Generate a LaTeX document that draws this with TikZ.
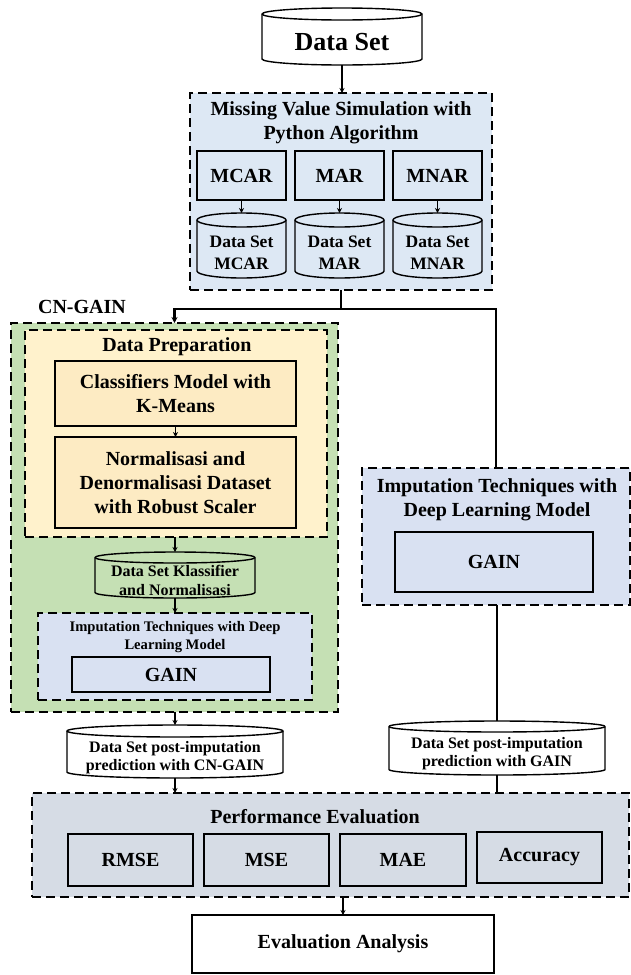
\documentclass[tikz,border=0pt]{standalone}
\usepackage{fontspec}
\setmainfont{Liberation Serif}
\usetikzlibrary{arrows.meta}

\definecolor{simblue}{HTML}{DDE8F4}
\definecolor{cngreen}{HTML}{C5E0B4}
\definecolor{prepyel}{HTML}{FFF2CC}
\definecolor{stepyel}{HTML}{FDEBC3}
\definecolor{impblue}{HTML}{D9E1F2}
\definecolor{evalgray}{HTML}{D6DCE5}

% rectangle node given by its corners (x1,y1)-(x2,y2), y measured downwards
\newcommand\rbox[7]{%
  \pgfmathsetmacro\rbw{#5-#3}\pgfmathsetmacro\rbh{#6-#4}%
  \node[#1, anchor=north west, minimum width=\rbw pt, minimum height=\rbh pt] (#2) at (#3,-#4) {#7};}

% database cylinder: name, x1, ytop, x2, ybottom, cap radius, fill, font, text
\newcommand\dbcyl[9]{%
  \pgfmathsetmacro\cylcx{(#2+#4)/2}%
  \pgfmathsetmacro\cylrx{(#4-#2)/2}%
  \pgfmathsetmacro\cylw{#4-#2}%
  \pgfmathsetmacro\cylh{#5-#3}%
  \pgfmathsetmacro\cylta{-(#3+#6)}%
  \pgfmathsetmacro\cylba{-(#5-#6)}%
  \pgfmathsetmacro\cylty{-(#3+2*#6+#5)/2}%
  \path[cylline, fill=#7] (#2,\cylta) -- (#2,\cylba)
     arc[start angle=180, end angle=360, x radius=\cylrx pt, y radius=#6 pt]
     -- (#4,\cylta)
     arc[start angle=0, end angle=180, x radius=\cylrx pt, y radius=#6 pt] -- cycle;
  \path[cylline] (#2,\cylta)
     arc[start angle=180, end angle=360, x radius=\cylrx pt, y radius=#6 pt];
  \node[inner sep=0pt, outer sep=0pt, minimum width=\cylw pt, minimum height=\cylh pt,
        anchor=north west] (#1) at (#2,-#3) {};
  \node[align=center, inner sep=0pt, font={#8}] (#1t) at (\cylcx,\cylty) {#9};}

\begin{document}
\begin{tikzpicture}[x=1pt, y=1pt,
  box/.style={draw=black, line width=1.6pt, inner sep=0pt, outer sep=0pt, align=center,
              font=\fontsize{20}{24}\selectfont\bfseries},
  thickbox/.style={box, line width=2.6pt},
  group/.style={draw=black, line width=2.6pt, dash pattern=on 9pt off 5pt,
                inner sep=0pt, outer sep=0pt},
  cylline/.style={draw=black, line width=1.4pt},
  title/.style={align=center, inner sep=0pt, font=\fontsize{20}{24}\selectfont\bfseries},
  arr/.style={draw=black, line width=1.4pt, -{Stealth[length=5pt,width=5pt]}},
  conn/.style={draw=black, line width=2.6pt},
  connarr/.style={conn, -{Stealth[length=6pt,width=6pt]}}]

\fill[white] (0,0) rectangle (631,-975);
\useasboundingbox (0,0) rectangle (631,-975);

% source data
\dbcyl{ds}{262}{8}{422}{65}{6}{white}{\fontsize{26}{30}\selectfont\bfseries}{Data Set}

% missing value simulation
\rbox{group, fill=simblue}{sim}{190}{93}{492}{290}{}
\node[title] (simt) at (341,-123) {Missing Value Simulation with\\Python Algorithm};
\rbox{box, fill=simblue}{mcar}{197}{151}{286}{200}{MCAR}
\rbox{box, fill=simblue}{mar}{295}{151}{384}{200}{MAR}
\rbox{box, fill=simblue}{mnar}{393}{151}{482}{200}{MNAR}
\dbcyl{dmcar}{197}{213}{286}{278}{7}{simblue}{\fontsize{17.5}{22}\selectfont\bfseries}{Data Set\\MCAR}
\dbcyl{dmar}{295}{213}{384}{278}{7}{simblue}{\fontsize{17.5}{22}\selectfont\bfseries}{Data Set\\MAR}
\dbcyl{dmnar}{393}{213}{482}{278}{7}{simblue}{\fontsize{17.5}{22}\selectfont\bfseries}{Data Set\\MNAR}

% CN-GAIN pipeline
\node[title] (cnlabel) at (82,-307) {CN-GAIN};
\rbox{group, fill=cngreen}{cn}{11}{323}{338}{712}{}
\rbox{group, fill=prepyel}{prep}{25}{330}{327}{537}{}
\node[title] (prept) at (177,-347) {Data Preparation};
\rbox{thickbox, fill=stepyel}{kmeans}{55}{361}{296}{426}{Classifiers Model with\\K-Means}
\rbox{thickbox, fill=stepyel}{norm}{55}{437}{296}{528}{Normalisasi and\\Denormalisasi Dataset\\with Robust Scaler}
\dbcyl{dkn}{95}{552}{255}{598}{5.5}{cngreen}{\fontsize{16}{19}\selectfont\bfseries}{Data Set Klassifier\\and Normalisasi}
\rbox{group, fill=impblue}{impin}{38}{613}{312}{700}{}
\node[title, font=\fontsize{14.6}{18}\selectfont\bfseries] (impint) at (175,-637)
  {Imputation Techniques with Deep\\Learning Model};
\rbox{thickbox, fill=impblue}{gainl}{72}{657}{270}{692}{GAIN}

% plain GAIN pipeline
\rbox{group, fill=impblue}{rimp}{362}{468}{630}{605}{}
\node[title] (rimpt) at (497,-499.5) {Imputation Techniques with\\Deep Learning Model};
\rbox{thickbox, fill=impblue}{gainr}{395}{532}{593}{592}{GAIN}

% imputed data sets
\dbcyl{pcn}{67}{725}{283}{778}{6}{white}{\fontsize{16}{18}\selectfont\bfseries}{Data Set post-imputation\\prediction with CN-GAIN}
\dbcyl{pg}{389}{721}{605}{775}{5.5}{white}{\fontsize{16}{18}\selectfont\bfseries}{Data Set post-imputation\\prediction with GAIN}

% evaluation
\rbox{group, fill=evalgray}{perf}{32}{793}{629}{897}{}
\node[title] (perft) at (315,-817) {Performance Evaluation};
\rbox{box, fill=evalgray}{rmse}{68}{834}{193}{886}{RMSE}
\rbox{box, fill=evalgray}{mse}{204}{834}{329}{886}{MSE}
\rbox{box, fill=evalgray}{mae}{340}{834}{466}{886}{MAE}
\rbox{box, fill=evalgray}{acc}{477}{832}{602}{883}{Accuracy}
\rbox{box, line width=2pt, fill=white}{ana}{192}{915}{494}{973}{Evaluation Analysis}

% connectors
\draw[arr] (ds.south) -- (ds.south |- sim.north);
\draw[arr] (mcar.south) -- (dmcar.north);
\draw[arr] (mar.south) -- (dmar.north);
\draw[arr] (mnar.south) -- (dmnar.north);
\draw[conn] (sim.south) -- ++(0,-19) coordinate (split);
\draw[connarr] (split) -| (cn.north);
\draw[conn] (split) -| (rimp.north);
\draw[arr] (kmeans.south) -- (norm.north);
\draw[arr] (dkn.north |- prep.south) -- (dkn.north);
\draw[arr] (dkn.south) -- (dkn.south |- impin.north);
\draw[arr] (pcn.north |- cn.south) -- (pcn.north);
\draw[arr] (pcn.south) -- (pcn.south |- perf.north);
\draw[conn] (pg.north |- rimp.south) -- (pg.north);
\draw[conn] (pg.south) -- (pg.south |- perf.north);
\draw[arr] (ana.north |- perf.south) -- (ana.north);
\end{tikzpicture}
\end{document}
